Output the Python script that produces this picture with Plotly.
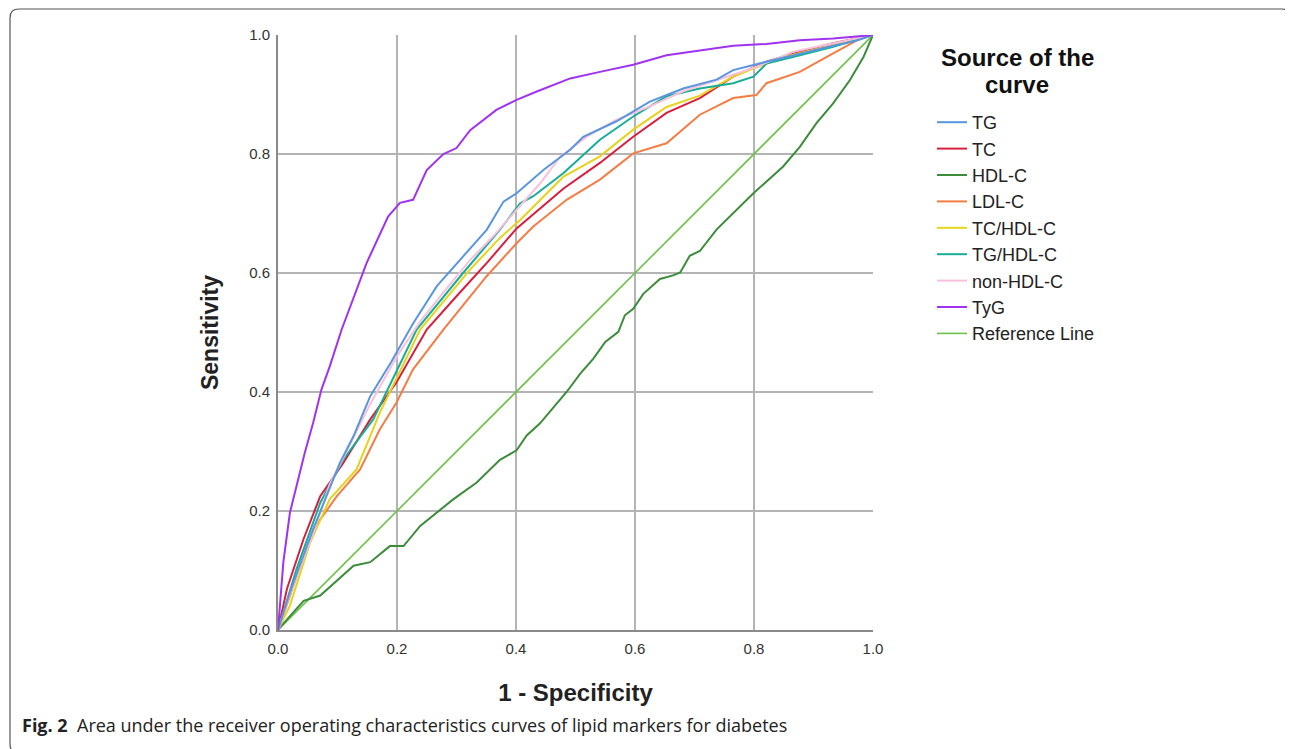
import plotly.graph_objects as go

# ---- data (1 - specificity, sensitivity) ----
tg_x = [0, 0.02, 0.059, 0.104, 0.127, 0.155, 0.19, 0.227, 0.267, 0.311, 0.351, 0.379, 0.401, 0.446, 0.491, 0.513, 0.569, 0.625, 0.681, 0.737, 0.765, 0.821, 0.877, 0.933, 0.97, 1.0]
tg_y = [0, 0.063, 0.169, 0.281, 0.326, 0.393, 0.45, 0.515, 0.578, 0.628, 0.673, 0.72, 0.734, 0.773, 0.807, 0.829, 0.855, 0.888, 0.910, 0.925, 0.941, 0.955, 0.969, 0.982, 0.99, 1.0]

tc_x = [0, 0.015, 0.043, 0.071, 0.11, 0.155, 0.199, 0.25, 0.30, 0.351, 0.401, 0.48, 0.541, 0.597, 0.653, 0.709, 0.765, 0.821, 0.877, 0.933, 1.0]
tc_y = [0, 0.069, 0.153, 0.225, 0.281, 0.354, 0.416, 0.505, 0.561, 0.617, 0.675, 0.742, 0.785, 0.829, 0.869, 0.894, 0.93, 0.955, 0.972, 0.986, 1.0]

hdl_x = [0, 0.003, 0.043, 0.071, 0.127, 0.155, 0.188, 0.211, 0.239, 0.295, 0.334, 0.373, 0.401, 0.418, 0.44, 0.468, 0.485, 0.508, 0.53, 0.55, 0.572, 0.583, 0.597, 0.614, 0.642, 0.664, 0.676, 0.692, 0.709, 0.737, 0.799, 0.849, 0.877, 0.905, 0.933, 0.961, 0.984, 1.0]
hdl_y = [0, 0.004, 0.049, 0.058, 0.108, 0.114, 0.141, 0.141, 0.175, 0.22, 0.248, 0.286, 0.302, 0.327, 0.347, 0.38, 0.40, 0.431, 0.456, 0.484, 0.501, 0.529, 0.54, 0.565, 0.59, 0.596, 0.601, 0.629, 0.637, 0.673, 0.734, 0.779, 0.812, 0.852, 0.885, 0.924, 0.963, 1.0]

ldl_x = [0, 0.02, 0.059, 0.099, 0.138, 0.171, 0.199, 0.227, 0.278, 0.351, 0.401, 0.429, 0.485, 0.541, 0.597, 0.653, 0.709, 0.765, 0.804, 0.821, 0.877, 0.933, 0.973, 1.0]
ldl_y = [0, 0.058, 0.169, 0.225, 0.27, 0.337, 0.382, 0.438, 0.505, 0.595, 0.65, 0.678, 0.723, 0.757, 0.801, 0.818, 0.866, 0.894, 0.899, 0.919, 0.938, 0.969, 0.991, 1.0]

tchdl_x = [0, 0.02, 0.054, 0.087, 0.132, 0.171, 0.239, 0.323, 0.373, 0.407, 0.457, 0.48, 0.541, 0.597, 0.653, 0.709, 0.765, 0.849, 0.93, 1.0]
tchdl_y = [0, 0.041, 0.147, 0.22, 0.27, 0.365, 0.505, 0.606, 0.659, 0.689, 0.739, 0.762, 0.796, 0.841, 0.879, 0.898, 0.93, 0.963, 0.982, 1.0]

tghdl_x = [0, 0.031, 0.071, 0.11, 0.16, 0.233, 0.311, 0.373, 0.407, 0.429, 0.48, 0.541, 0.597, 0.653, 0.709, 0.765, 0.799, 0.821, 0.877, 0.933, 1.0]
tghdl_y = [0, 0.102, 0.214, 0.287, 0.354, 0.505, 0.60, 0.673, 0.717, 0.729, 0.768, 0.824, 0.863, 0.897, 0.910, 0.919, 0.930, 0.952, 0.966, 0.98, 1.0]

nonhdl_x = [0, 0.02, 0.06, 0.087, 0.11, 0.155, 0.2, 0.24, 0.28, 0.323, 0.36, 0.4, 0.44, 0.474, 0.52, 0.57, 0.62, 0.68, 0.74, 0.8, 0.866, 0.93, 1.0]
nonhdl_y = [0, 0.06, 0.165, 0.245, 0.29, 0.38, 0.46, 0.52, 0.57, 0.622, 0.66, 0.705, 0.75, 0.795, 0.83, 0.858, 0.878, 0.905, 0.925, 0.945, 0.972, 0.985, 1.0]

tyg_x = [0, 0.009, 0.02, 0.04, 0.045, 0.059, 0.073, 0.087, 0.107, 0.149, 0.185, 0.205, 0.227, 0.25, 0.278, 0.30, 0.323, 0.367, 0.401, 0.435, 0.491, 0.541, 0.597, 0.653, 0.709, 0.765, 0.821, 0.877, 0.933, 1.0]
tyg_y = [0, 0.114, 0.197, 0.281, 0.298, 0.348, 0.404, 0.443, 0.505, 0.617, 0.695, 0.718, 0.723, 0.773, 0.80, 0.81, 0.84, 0.874, 0.891, 0.905, 0.927, 0.938, 0.950, 0.966, 0.974, 0.982, 0.985, 0.991, 0.994, 1.0]

ref_x = [0, 1]
ref_y = [0, 1]

series_names = ["TG", "TC", "HDL-C", "LDL-C", "TC/HDL-C", "TG/HDL-C", "non-HDL-C", "TyG", "Reference Line"]
series_x = [tg_x, tc_x, hdl_x, ldl_x, tchdl_x, tghdl_x, nonhdl_x, tyg_x, ref_x]
series_y = [tg_y, tc_y, hdl_y, ldl_y, tchdl_y, tghdl_y, nonhdl_y, tyg_y, ref_y]
colors = ["#5a96e0", "#d81e3e", "#3c8c3c", "#f47c45", "#e6d31a", "#17ad98", "#f8c0da", "#a033f0", "#6cc24a"]
widths = [2, 2, 2, 2, 2, 2, 2, 2, 1.6]

tick_vals = [0, 0.2, 0.4, 0.6, 0.8, 1.0]
tick_text = ["0.0", "0.2", "0.4", "0.6", "0.8", "1.0"]

fig = go.Figure()
draw_order = [8, 2, 3, 1, 4, 5, 6, 0, 7]
for i in draw_order:
    fig.add_trace(go.Scatter(
        x=series_x[i], y=series_y[i], mode="lines", name=series_names[i],
        line=dict(color=colors[i], width=widths[i]),
        legendgroup=series_names[i], legendrank=i + 1,
    ))

# page has an 8px body margin; positions below are in reference-image pixels
OFF = 8
W, H = 1293 - OFF, 749 - OFF
L, T = 278 - OFF, 35 - OFF
R = W - (873 - OFF)
B = H - (630 - OFF)
pw, ph = W - L - R, H - T - B

def px_x(p):
    return (p - OFF - L) / pw

def px_y(p):
    return (H - B - (p - OFF)) / ph

# rounded outer frame
x0, x1 = px_x(10), px_x(1291)
y0, y1 = px_y(9), px_y(753)
rx, ry = 9 / pw, 9 / ph
path = (f"M {x0 + rx},{y0} L {x1 - rx},{y0} Q {x1},{y0} {x1},{y0 - ry} "
        f"L {x1},{y1 + ry} Q {x1},{y1} {x1 - rx},{y1} L {x0 + rx},{y1} "
        f"Q {x0},{y1} {x0},{y1 + ry} L {x0},{y0 - ry} Q {x0},{y0} {x0 + rx},{y0} Z")
fig.add_shape(type="path", path=path, xref="paper", yref="paper",
              line=dict(color="#555555", width=1.2), fillcolor="rgba(0,0,0,0)", layer="below")

axis_common = dict(
    range=[0, 1], tickvals=tick_vals, ticktext=tick_text,
    showgrid=True, gridcolor="#b4b4b4", gridwidth=1.6,
    zeroline=False, showline=True, linecolor="#8a8a8a", linewidth=2,
    ticks="", tickfont=dict(family="Liberation Sans, Arial", size=15, color="#333333"),
    fixedrange=True,
)

fig.update_layout(
    width=W, height=H,
    margin=dict(l=L, r=R, t=T, b=B, autoexpand=False),
    paper_bgcolor="white", plot_bgcolor="white",
    xaxis=dict(**axis_common, ticklabelstandoff=4,
               title=dict(text="<b>1 - Specificity</b>", standoff=28,
                          font=dict(family="Liberation Sans, Arial", size=24, color="#222222"))),
    yaxis=dict(**axis_common, ticklabelstandoff=3,
               title=dict(text="<b>Sensitivity</b>", standoff=24,
                          font=dict(family="Liberation Sans, Arial", size=23, color="#222222"))),
    showlegend=True,
    legend=dict(
        x=px_x(932), y=px_y(104), xanchor="left", yanchor="top",
        bgcolor="rgba(0,0,0,0)", borderwidth=0,
        font=dict(family="Liberation Sans, Arial", size=18, color="#222222"),
        traceorder="grouped", tracegroupgap=0,
    ),
    annotations=[
        dict(x=px_x(1017), y=px_y(58), xref="paper", yref="paper",
             xanchor="center", yanchor="middle", showarrow=False,
             text="<b>Source of the</b>",
             font=dict(family="Liberation Sans, Arial", size=24, color="#111111")),
        dict(x=px_x(1017), y=px_y(84), xref="paper", yref="paper",
             xanchor="center", yanchor="middle", showarrow=False,
             text="<b>curve</b>",
             font=dict(family="Liberation Sans, Arial", size=24, color="#111111")),
        dict(x=px_x(20), y=px_y(725), xref="paper", yref="paper", xanchor="left", yanchor="middle",
             text="<b>Fig. 2</b>  Area under the receiver operating characteristics curves of lipid markers for diabetes",
             showarrow=False, font=dict(family="Open Sans", size=18, color="#222222")),
    ],
)

fig.write_html("out.html")
